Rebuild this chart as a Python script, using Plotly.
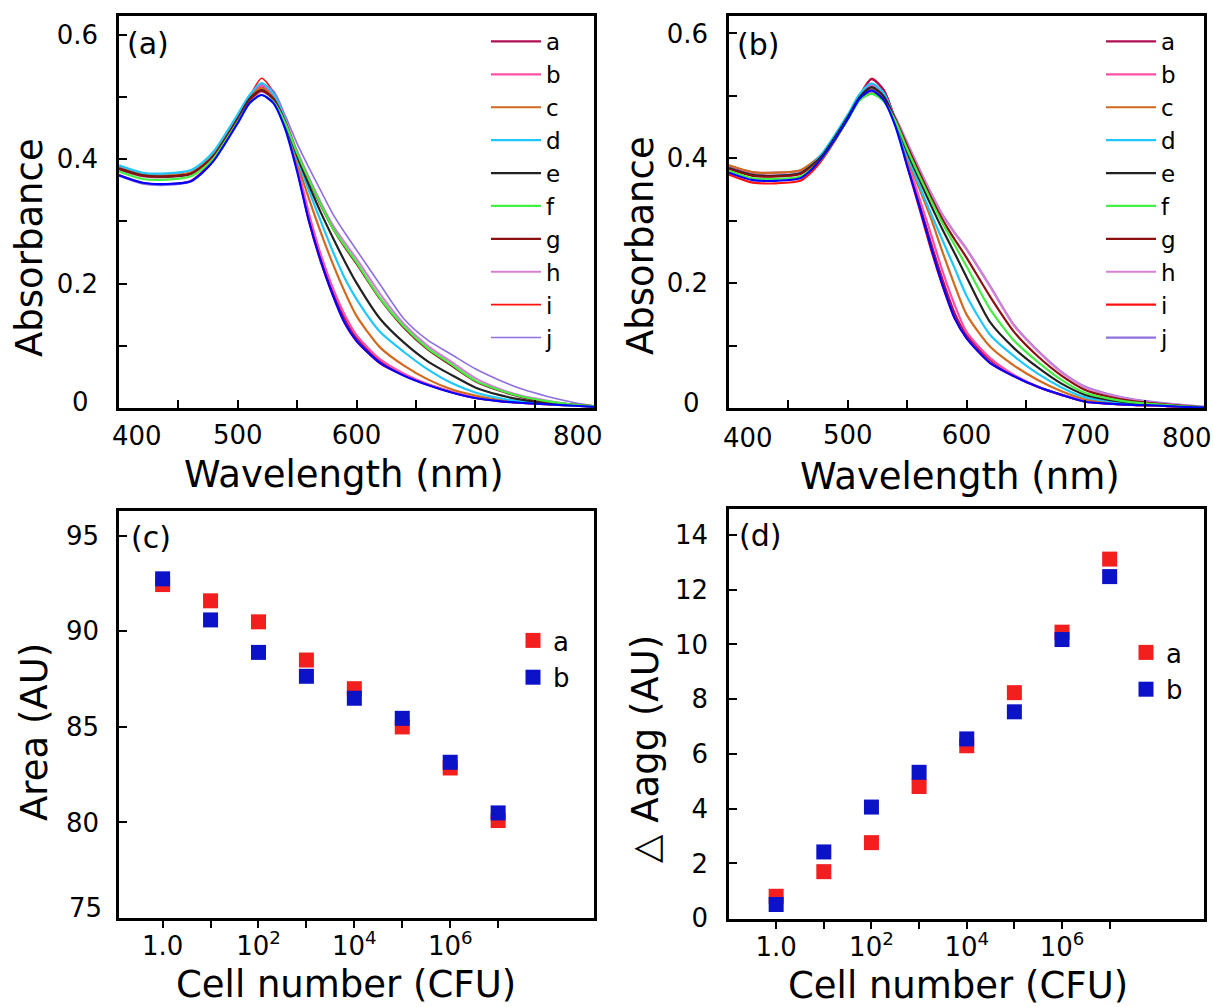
import plotly.graph_objects as go

W, H = 1213, 1007
FONT = "'DejaVu Sans', Arial, sans-serif"

# ---------------- data ----------------
wavelength = [400, 420, 440, 460, 470, 480, 500, 510, 520, 530, 540, 550, 560, 570,
              580, 590, 600, 620, 640, 660, 680, 700, 720, 740, 760, 780, 800]

series_labels = ["a", "b", "c", "d", "e", "f", "g", "h", "i", "j"]
series_colors = ["#b01050", "#ff4fa8", "#d2691e", "#1ec8ff", "#222222",
                 "#44ee44", "#8b1010", "#d780d8", "#ff1010", "#9070e0"]
control_color = "#0000ff"

# panel (a) spectra
pa_a = [.386, .375, .373, .377, .389, .407, .466, .499, .515, .500, .455, .386, .305, .240, .188, .144, .113, .075, .054, .038, .026, .016, .011, .008, .006, .004, .002]
pa_b = [.387, .376, .374, .378, .390, .409, .468, .501, .518, .502, .456, .390, .312, .246, .193, .150, .117, .078, .055, .038, .026, .017, .012, .008, .006, .004, .002]
pa_c = [.386, .375, .374, .378, .390, .408, .466, .499, .514, .499, .458, .395, .336, .282, .232, .187, .148, .097, .068, .046, .030, .020, .013, .009, .006, .004, .002]
pa_d = [.390, .378, .377, .382, .394, .413, .472, .503, .522, .505, .462, .401, .349, .300, .252, .209, .175, .122, .090, .062, .040, .025, .016, .010, .007, .004, .002]
pa_e = [.385, .374, .372, .376, .388, .406, .465, .497, .511, .497, .458, .405, .358, .314, .274, .236, .201, .143, .105, .075, .053, .033, .021, .013, .008, .005, .002]
pa_f = [.380, .368, .367, .372, .384, .402, .460, .490, .503, .492, .458, .410, .367, .327, .289, .261, .234, .176, .131, .096, .070, .044, .029, .018, .011, .006, .003]
pa_g = [.384, .373, .372, .376, .388, .405, .463, .495, .510, .497, .460, .409, .366, .326, .289, .259, .232, .175, .129, .094, .068, .043, .028, .017, .010, .006, .003]
pa_h = [.383, .372, .371, .375, .387, .404, .462, .494, .508, .497, .462, .413, .370, .330, .294, .266, .240, .183, .135, .100, .074, .048, .031, .019, .012, .006, .003]
pa_i = [.375, .362, .360, .365, .380, .402, .463, .500, .530, .508, .455, .382, .298, .233, .180, .136, .107, .071, .052, .037, .025, .016, .011, .008, .006, .004, .002]
pa_j = [.373, .360, .358, .363, .377, .398, .458, .492, .520, .510, .470, .425, .386, .349, .312, .282, .254, .198, .143, .109, .086, .063, .045, .030, .019, .010, .003]
pa_ctrl = [.374, .362, .360, .364, .378, .398, .458, .490, .503, .490, .448, .380, .300, .236, .182, .137, .108, .072, .052, .037, .025, .016, .011, .008, .006, .004, .002]

# panel (b) spectra
pb_a = [.385, .374, .372, .376, .389, .408, .466, .500, .527, .510, .462, .393, .330, .265, .205, .152, .117, .077, .052, .034, .021, .011, .007, .005, .004, .002, .001]
pb_b = [.383, .373, .371, .375, .388, .408, .466, .499, .518, .503, .458, .395, .338, .279, .218, .165, .122, .080, .053, .034, .021, .011, .007, .005, .004, .002, .001]
pb_c = [.389, .378, .377, .381, .393, .410, .467, .499, .512, .498, .459, .400, .353, .304, .249, .197, .150, .098, .068, .045, .027, .014, .009, .006, .004, .002, .001]
pb_d = [.384, .373, .372, .376, .390, .412, .470, .503, .520, .505, .462, .405, .358, .312, .268, .224, .180, .117, .083, .055, .033, .017, .011, .007, .005, .003, .001]
pb_e = [.384, .373, .372, .376, .389, .408, .466, .498, .514, .500, .462, .410, .367, .325, .285, .248, .210, .137, .096, .065, .039, .021, .013, .008, .005, .003, .001]
pb_f = [.380, .368, .367, .371, .384, .404, .462, .493, .5035, .492, .460, .415, .373, .333, .295, .261, .227, .158, .108, .074, .045, .024, .015, .009, .006, .003, .001]
pb_g = [.383, .372, .371, .375, .387, .405, .463, .494, .5035, .494, .463, .420, .378, .338, .301, .270, .241, .178, .122, .083, .052, .029, .018, .011, .007, .004, .001]
pb_h = [.388, .377, .376, .380, .391, .408, .464, .495, .507, .497, .465, .424, .383, .344, .308, .280, .254, .194, .132, .091, .057, .033, .021, .013, .008, .005, .002]
pb_i = [.374, .361, .360, .364, .379, .402, .463, .500, .5275, .510, .460, .388, .322, .255, .195, .144, .112, .072, .051, .034, .021, .010, .007, .005, .004, .002, .001]
pb_j = [.388, .377, .377, .380, .391, .407, .463, .494, .507, .497, .466, .425, .384, .345, .309, .281, .255, .195, .133, .092, .058, .034, .022, .014, .009, .005, .002]
pb_ctrl = [.377, .365, .364, .368, .383, .405, .463, .496, .509, .494, .452, .388, .325, .258, .196, .144, .112, .072, .051, .034, .021, .010, .007, .005, .004, .002, .001]

# panels (c), (d)
cell_number = [1, 10, 100, 1e3, 1e4, 1e5, 1e6, 1e7]
area_a = [92.45, 91.6, 90.5, 88.5, 87.0, 85.0, 82.85, 80.1]
area_b = [92.75, 90.6, 88.9, 87.65, 86.5, 85.45, 83.15, 80.5]
dagg_a = [0.8, 1.7, 2.76, 4.81, 6.3, 8.24, 10.45, 13.12]
dagg_b = [0.5, 2.42, 4.06, 5.33, 6.55, 7.54, 10.18, 12.48]

red_sq = "#f31e1e"
blue_sq = "#0c12c8"

# ---------------- helpers ----------------
def px(x):
    return x / W

def py(y):
    return 1 - y / H

fig = go.Figure()

panel_a = [pa_a, pa_b, pa_c, pa_d, pa_e, pa_f, pa_g, pa_h, pa_i, pa_j]
panel_b = [pb_a, pb_b, pb_c, pb_d, pb_e, pb_f, pb_g, pb_h, pb_i, pb_j]
draw_order = [8, 9, 7, 0, 1, 2, 3, 4, 6, 5]

for axn, legname, data, ctrl in [("", "legend", panel_a, pa_ctrl), ("2", "legend2", panel_b, pb_ctrl)]:
    for k in draw_order:
        noisy = k in (8, 9) and axn == ""
        fig.add_trace(go.Scatter(
            x=wavelength, y=data[k], mode="lines", name=series_labels[k],
            line=dict(color=series_colors[k], width=1.6 if noisy else 2.2, shape="spline", smoothing=0.7),
            xaxis="x" + axn, yaxis="y" + axn, legend=legname, legendrank=k + 1,
        ))
    fig.add_trace(go.Scatter(
        x=wavelength, y=ctrl, mode="lines", showlegend=False,
        line=dict(color=control_color, width=2.2, shape="spline", smoothing=0.7),
        xaxis="x" + axn, yaxis="y" + axn,
    ))

for axn, legname, ya, yb in [("3", "legend3", area_a, area_b), ("4", "legend4", dagg_a, dagg_b)]:
    fig.add_trace(go.Scatter(x=cell_number, y=ya, mode="markers", name="a",
                             marker=dict(symbol="square", size=15, color=red_sq),
                             xaxis="x" + axn, yaxis="y" + axn, legend=legname))
    fig.add_trace(go.Scatter(x=cell_number, y=yb, mode="markers", name="b",
                             marker=dict(symbol="square", size=15, color=blue_sq),
                             xaxis="x" + axn, yaxis="y" + axn, legend=legname))

tickfont = dict(family=FONT, size=26, color="black")
common = dict(showline=True, linewidth=2.5, linecolor="black", mirror=True,
              showgrid=False, zeroline=False, tickwidth=2, tickcolor="black",
              tickfont=tickfont, automargin=False)

wl_ticks = list(range(400, 801, 50))
wl_text = [str(v) if (v % 100 == 0 and 400 < v < 800) else "" for v in wl_ticks]
abs_ticks = [0, 0.1, 0.2, 0.3, 0.4, 0.5, 0.6]
abs_text = ["", "", "0.2", "", "0.4", "", "0.6"]
log_text = ["1.0", "", "10<sup>2</sup>", "", "10<sup>4</sup>", "", "10<sup>6</sup>", ""]
area_ticks = [75, 80, 85, 90, 95]
area_text = ["", "80", "85", "90", "95"]
dagg_ticks = [0, 2, 4, 6, 8, 10, 12, 14]

left_dom = [px(119), px(594)]
right_dom = [px(729), px(1204)]
top_dom = [py(408), py(16)]

layout = dict(
    width=W, height=H, autosize=False,
    margin=dict(l=0, r=0, t=0, b=0),
    paper_bgcolor="white", plot_bgcolor="white",
    font=dict(family=FONT, color="black"),
    xaxis=dict(domain=left_dom, range=[400, 800], anchor="y", tickvals=wl_ticks, ticktext=wl_text,
               ticks="inside", ticklen=8, ticklabelstandoff=2, **common),
    yaxis=dict(domain=top_dom, range=[0, 0.63], anchor="x", tickvals=abs_ticks, ticktext=abs_text,
               ticks="inside", ticklen=8, ticklabelstandoff=13, **common),
    xaxis2=dict(domain=right_dom, range=[400, 800], anchor="y2", tickvals=wl_ticks, ticktext=wl_text,
                ticks="inside", ticklen=8, ticklabelstandoff=2, **common),
    yaxis2=dict(domain=top_dom, range=[0, 0.628], anchor="x2", tickvals=abs_ticks, ticktext=abs_text,
                ticks="inside", ticklen=8, ticklabelstandoff=13, **common),
    xaxis3=dict(domain=left_dom, type="log", range=[-0.91, 9.0], anchor="y3",
                tickvals=cell_number, ticktext=log_text, ticks="outside", ticklen=7,
                ticklabelstandoff=-4, **common),
    yaxis3=dict(domain=[py(918), py(511)], range=[75, 96.3], anchor="x3",
                tickvals=area_ticks, ticktext=area_text, ticks="inside", ticklen=8,
                ticklabelstandoff=12, **common),
    xaxis4=dict(domain=right_dom, type="log", range=[-0.99, 8.98], anchor="y4",
                tickvals=cell_number, ticktext=log_text, ticks="outside", ticklen=7,
                ticklabelstandoff=-4, **common),
    yaxis4=dict(domain=[py(919), py(509)], range=[-0.03, 14.95], anchor="x4",
                tickvals=dagg_ticks, ticks="inside", ticklen=8, ticklabelstandoff=13, **common),
)

leg_common = dict(xanchor="left", yanchor="top", bgcolor="rgba(0,0,0,0)", borderwidth=0,
                  tracegroupgap=0, itemclick=False, itemdoubleclick=False)
spec_leg_font = dict(family=FONT, size=23, color="black")
sq_leg_font = dict(family=FONT, size=26, color="black")
layout["legend"] = dict(x=px(486), y=py(20), itemwidth=50, font=spec_leg_font, **leg_common)
layout["legend2"] = dict(x=px(1101), y=py(20), itemwidth=50, font=spec_leg_font, **leg_common)
layout["legend3"] = dict(x=px(513), y=py(617), font=sq_leg_font, **leg_common)
layout["legend4"] = dict(x=px(1126), y=py(629), font=sq_leg_font, **leg_common)

ann = []
def label(text, x, y, size, angle=0, xanchor="center"):
    ann.append(dict(text=text, x=px(x), y=py(y), xref="paper", yref="paper",
                    showarrow=False, textangle=angle, xanchor=xanchor, yanchor="middle",
                    font=dict(family=FONT, size=size, color="black")))

# panel letters
label("(a)", 148, 44, 30)
label("(b)", 758, 45, 30)
label("(c)", 151, 537, 30)
label("(d)", 760, 535, 30)
# axis titles
label("Wavelength (nm)", 344, 474, 37)
label("Wavelength (nm)", 960, 476, 37)
label("Cell number (CFU)", 346, 984, 37)
label("Cell number (CFU)", 958, 985, 37)
label("Absorbance", 30, 248, 37, -90)
label("Absorbance", 641, 246, 37, -90)
label("Area (AU)", 34, 732, 37, -90)
label("\u25b3 Aagg (AU)", 645, 749, 37, -90)
# end tick labels, set inward like in the original figure
label("400", 137, 436, 26)
label("800", 578, 436, 26)
label("400", 748, 438, 26)
label("800", 1187, 438, 26)
label("0", 80, 402, 26)
label("0", 691, 403, 26)
label("75", 104, 908, 26, xanchor="right")
layout["annotations"] = ann

fig.update_layout(**layout)
fig.write_html("out.html", config={"displayModeBar": False},
               post_script="document.body.style.margin='0px';document.body.style.padding='0px';")
